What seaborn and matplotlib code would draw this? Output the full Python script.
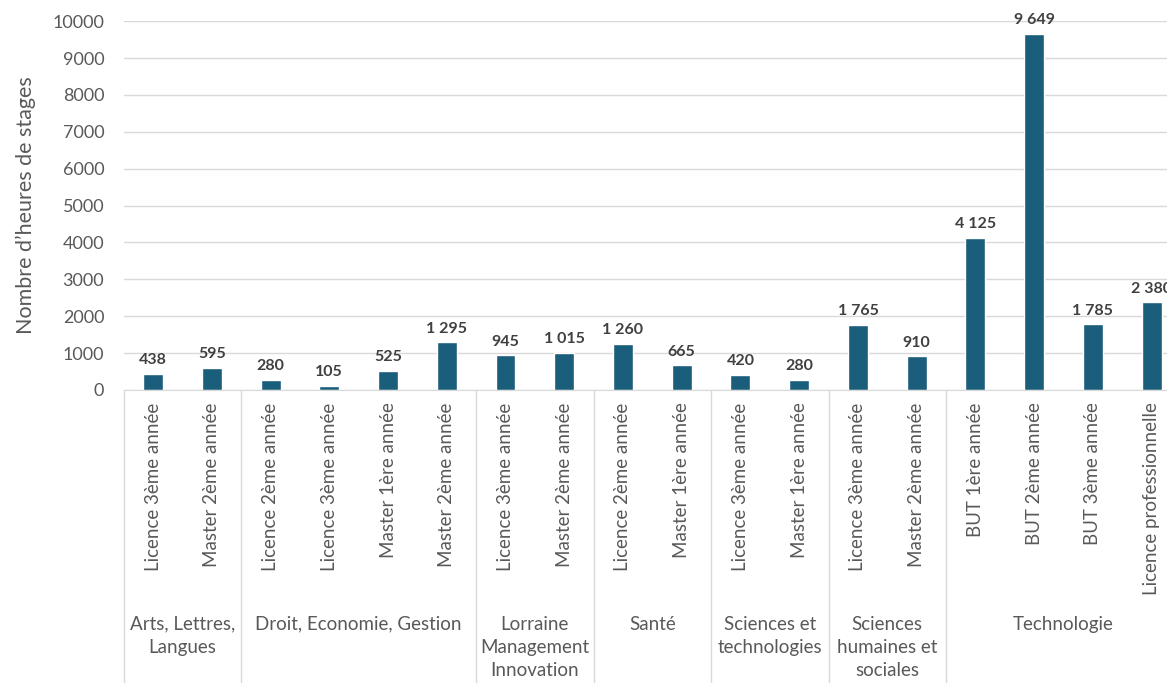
import matplotlib
matplotlib.use("Agg")
import matplotlib.pyplot as plt
import matplotlib.transforms as mtransforms
import seaborn as sns
import pandas as pd

groups = ["Arts, Lettres,\nLangues", "Droit, Economie, Gestion", "Lorraine\nManagement\nInnovation",
          "Santé", "Sciences et\ntechnologies", "Sciences\nhumaines et\nsociales", "Technologie"]
group_sizes = [2, 4, 2, 2, 2, 2, 4]
levels = ["Licence 3ème année", "Master 2ème année",
          "Licence 2ème année", "Licence 3ème année", "Master 1ère année", "Master 2ème année",
          "Licence 3ème année", "Master 2ème année",
          "Licence 2ème année", "Master 1ère année",
          "Licence 3ème année", "Master 1ère année",
          "Licence 3ème année", "Master 2ème année",
          "BUT 1ère année", "BUT 2ème année", "BUT 3ème année", "Licence professionnelle"]
hours = [438, 595, 280, 105, 525, 1295, 945, 1015, 1260, 665, 420, 280, 1765, 910, 4125, 9649, 1785, 2380]

sns.set_style("white")
plt.rcParams['font.family'] = ['Lato', 'DejaVu Sans']

keys = [f"{i}_{l}" for i, l in enumerate(levels)]
df = pd.DataFrame({'key': keys, 'level': levels, 'hours': hours})

fig = plt.figure(figsize=(11.67, 6.83), dpi=100)
ax = fig.add_axes([0.106, 0.429, 0.906, 0.540])
sns.barplot(x='key', y='hours', data=df, color='#1b5e7b', width=0.34, saturation=1, ax=ax)

ax.set_ylim(0, 10000)
ax.set_xlim(-0.5, len(levels) - 0.5)
ax.set_yticks(range(0, 10001, 1000))
ax.yaxis.grid(True, color='#d9d9d9', linewidth=1)
ax.set_axisbelow(True)
for s in ['top', 'right', 'left']:
    ax.spines[s].set_visible(False)
ax.spines['bottom'].set_color('#d9d9d9')
ax.tick_params(axis='y', length=0, labelsize=13, labelcolor='#595959', pad=14)
ax.tick_params(axis='x', length=0, labelsize=13.5, labelcolor='#595959', pad=9)
ax.set_xticks(range(len(levels)))
ax.set_xticklabels(levels, rotation=90, va='top')
ax.set_xlabel('')
ax.set_ylabel("Nombre d’heures de stages", fontsize=15.5, color='#595959', labelpad=12)

for i, v in enumerate(hours):
    ax.text(i, v + 180, f"{v:,}".replace(",", " "), ha='center', va='bottom',
            fontsize=11.5, fontweight='bold', color='#404040')

trans = mtransforms.blended_transform_factory(ax.transData, ax.transAxes)
start = -0.5
for g, n in zip(groups, group_sizes):
    ax.plot([start, start], [0, -0.8], transform=trans, color='#d9d9d9', lw=1, clip_on=False)
    ax.text(start + n / 2, -0.612, g, transform=trans, ha='center', va='top',
            fontsize=13.5, color='#595959', linespacing=1.45)
    start += n
ax.plot([start, start], [0, -0.8], transform=trans, color='#d9d9d9', lw=1, clip_on=False)

fig.savefig("out.png", dpi=100)
